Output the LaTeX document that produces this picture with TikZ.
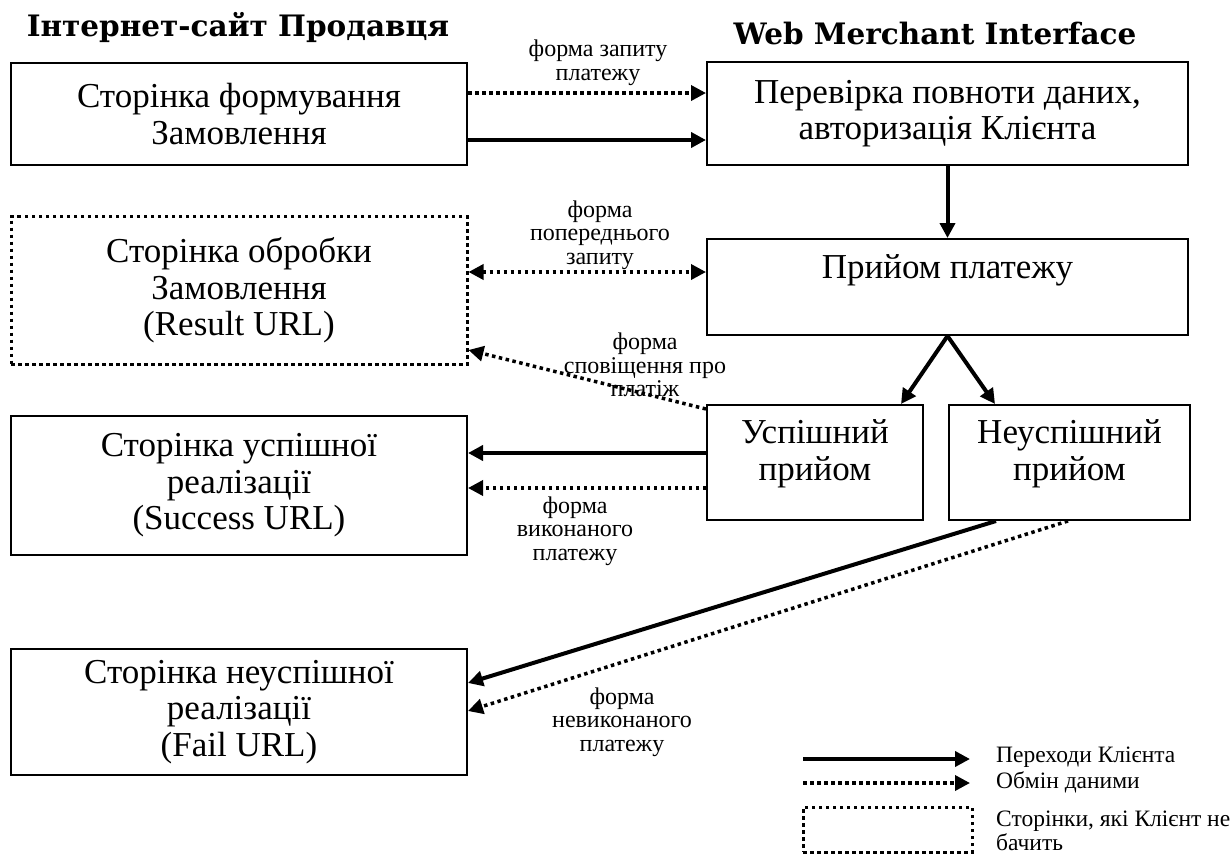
\documentclass[tikz,border=0pt]{standalone}
\usepackage{fontspec}
\setmainfont{Liberation Serif}
\newfontfamily\hdfont{DejaVu Serif}
\usetikzlibrary{positioning,arrows.meta}
\tikzstyle{pg}=[draw, rectangle, line width=2pt, align=center, inner sep=0pt, font=\fontsize{35pt}{36.5pt}\selectfont]
\tikzstyle{hp}=[pg, line width=3pt, dash pattern=on 3.5pt off 3.5pt]
\tikzstyle{bt}=[align=center, inner sep=0pt, font=\fontsize{35pt}{36.5pt}\selectfont]
\tikzstyle{lb}=[align=center, inner sep=0pt, font=\fontsize{24pt}{23.5pt}\selectfont]
\tikzstyle{lg}=[anchor=west, align=left, inner sep=0pt, font=\fontsize{23.5pt}{23.5pt}\selectfont]
\tikzstyle{tt}=[anchor=base, inner sep=0pt, font=\hdfont\bfseries\fontsize{29.5pt}{32pt}\selectfont]
\tikzstyle{tr}=[line width=4pt, ->]
\tikzstyle{dx}=[line width=3.5pt, dash pattern=on 3.5pt off 3.5pt, ->]

\begin{document}
\begin{tikzpicture}[x=1pt, y=-1pt, >={Triangle[length=15pt,width=15pt]}]
		\useasboundingbox (0,0) rectangle (1230,854);
		\node[tt] (T1) at (238,36) {Інтернет-сайт Продавця};
		\node[tt] (T2) at (935,44) {Web Merchant Interface};
		% shop pages
		\node[pg, minimum width=456pt, minimum height=102pt] (S1) at (239,114) {Сторінка формування\\Замовлення};
		\node[hp, minimum width=456pt, minimum height=148pt] (S2) at (239,290.5) {Сторінка обробки\\Замовлення\\(Result URL)};
		\node[pg, minimum width=456pt, minimum height=139pt] (S3) at (239,485.5) {Сторінка успішної\\реалізації\\(Success URL)};
		\node[pg, minimum width=456pt, minimum height=126pt] (S4) at (239,712) {Сторінка неуспішної\\реалізації\\(Fail URL)};
		% merchant interface
		\node[pg, minimum width=481pt, minimum height=103pt] (P1) at (947.5,113.5) {Перевірка повноти даних,\\авторизація Клієнта};
		\node[pg, minimum width=481pt, minimum height=96pt] (P2) [below = 72pt of P1] {};
		\node[bt] (P2t) at ([yshift=17pt]P2.center) {Прийом платежу};
		\node[pg, minimum width=216pt, minimum height=115pt] (U1) at (815,462.5) {};
		\node[bt] (U1t) at ([yshift=9pt]U1.center) {Успішний\\прийом};
		\node[pg, minimum width=241pt, minimum height=115pt] (U2) [right = 24pt of U1] {};
		\node[bt] (U2t) at ([yshift=9pt]U2.center) {Неуспішний\\прийом};
		% arrows
		\coordinate (a1) at ([yshift=21pt]S1.east);
		\coordinate (a2) at ([yshift=-26pt]S1.east);
		\draw (a1) edge[dx] (a1 -| P1.west);
		\draw (a2) edge[tr] (a2 -| P1.west);
		\draw (P1.south) edge[tr] (P2.north);
		\coordinate (b1) at ([yshift=18.5pt]S2.east);
		\draw (b1) edge[dx, <->] (b1 -| P2.west);
		\draw ([yshift=-5pt]U1.north west) edge[dx] ([yshift=16pt]S2.south east);
		\draw (P2.south) edge[tr] ([xshift=-23pt]U1.north east);
		\draw (P2.south) edge[tr] ([xshift=47pt]U2.north west);
		\coordinate (c1) at ([yshift=9.5pt]U1.west);
		\coordinate (c2) at ([yshift=-25.5pt]U1.west);
		\draw (c1) edge[tr] (c1 -| S3.east);
		\draw (c2) edge[dx] (c2 -| S3.east);
		\draw ([xshift=48pt]U2.south west) edge[tr] ([yshift=29pt]S4.east);
		\draw ([xshift=120pt]U2.south west) edge[dx] ([yshift=1pt]S4.east);
		% labels
		\node[lb] (L1) at (598,63) {форма запиту\\платежу};
		\node[lb] (L2) at (600,235) {форма\\попереднього\\запиту};
		\node[lb] (L3) at (645,365) {форма\\сповіщення про\\платіж};
		\node[lb] (L4) at (575,531) {форма\\виконаного\\платежу};
		\node[lb] (L5) at (622,722) {форма\\невиконаного\\платежу};
		% legend
		\coordinate (k1) at (803,759);
		\coordinate (k2) at (970,759);
		\coordinate (k3) at (803,783);
		\coordinate (k4) at (970,783);
		\draw (k1) edge[tr] (k2);
		\draw (k3) edge[dx] (k4);
		\node[hp, minimum width=169pt, minimum height=45pt] (K5) at (887.5,829.5) {};
		\node[lg] (G1) at (996,757) {Переходи Клієнта};
		\node[lg] (G2) at (996,782) {Обмін даними};
		\node[lg] (G3) at (996,831) {Сторінки, які Клієнт не\\бачить};
	\end{tikzpicture}
\end{document}
